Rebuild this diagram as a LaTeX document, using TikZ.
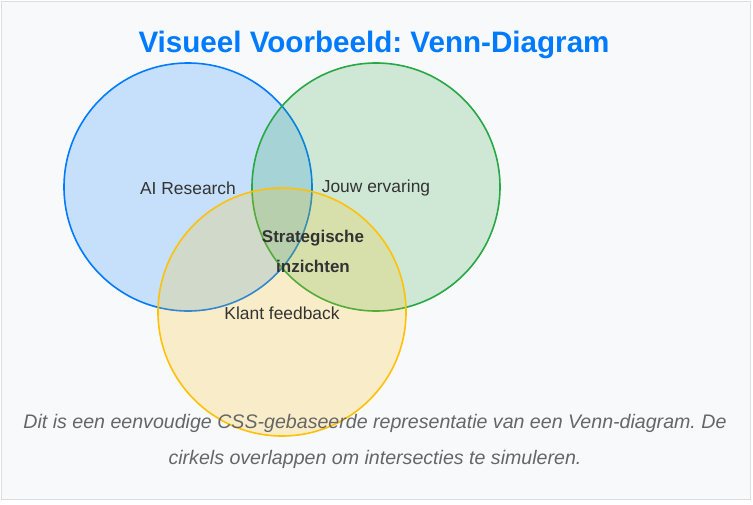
\documentclass[tikz,border=0pt]{standalone}
\usepackage{fontspec}
\setmainfont{Liberation Sans}
\usepackage{xcolor}
\definecolor{vennblue}{RGB}{0,123,255}
\definecolor{venngreen}{RGB}{40,167,69}
\definecolor{vennyellow}{RGB}{255,193,7}
\definecolor{base}{RGB}{51,51,51}
\definecolor{muted}{RGB}{102,102,102}
\definecolor{paper}{RGB}{248,249,250}
\definecolor{edge}{RGB}{221,221,221}
\usetikzlibrary{positioning}
\frenchspacing

\begin{document}
\begin{tikzpicture}[x=1pt,y=-1pt,
        venn/.style={circle,minimum size=248pt,inner sep=0pt,line width=1.6pt,fill opacity=0.2},
        label/.style={text=base,inner sep=0pt,font=\fontsize{17.4}{20}\selectfont},
        core/.style={text=base,inner sep=0pt,align=center,font=\bfseries\fontsize{17}{30}\selectfont}]
        \useasboundingbox (0,0) rectangle (753,504);
        \fill[white] (0,0) rectangle (753,504);
        \draw[draw=edge,fill=paper,line width=1pt] (1,1) rectangle (750,499);
        \node[text=vennblue,font=\bfseries\fontsize{29.6}{34}\selectfont] (title) at (374,45) {Visueel Voorbeeld: Venn-Diagram};
        \begin{scope}
            \node[venn,draw=vennblue,fill=vennblue] (ai) at (188,187) {};
            \node[venn,draw=venngreen,fill=venngreen] (jouw) at (376,187) {};
            \node[venn,draw=vennyellow,fill=vennyellow] (klant) at (282,312) {};
        \end{scope}
        \node[label] (ailbl) at (188,188) {AI Research};
        \node[label] (jouwlbl) at (376,188) {Jouw ervaring};
        \node[label] (klantlbl) at (282,313) {Klant feedback};
        \node[core] (midlbl) at (313,251) {Strategische\\inzichten};
        \node[text=muted,align=center,font=\itshape\fontsize{19.6}{36}\selectfont] (caption) at (375,441)
            {Dit is een eenvoudige CSS-gebaseerde representatie van een Venn-diagram. De\\cirkels overlappen om intersecties te simuleren.};
    \end{tikzpicture}
\end{document}
